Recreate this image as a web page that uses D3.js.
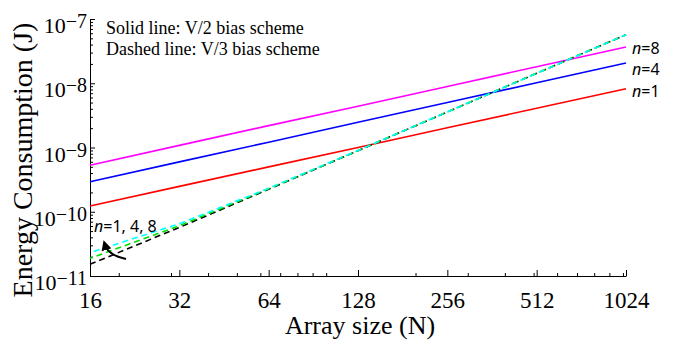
<!DOCTYPE html>
<html>
<head>
<meta charset="utf-8">
<script src="https://d3js.org/d3.v7.min.js"></script>
<style>
  body { margin: 0; background: #fff; }
  svg text { fill: #000; }
</style>
</head>
<body>
<div id="vis"></div>
<script>
// data
var sizes = [16, 32, 64, 128, 256, 512, 1024];
// solid lines: V/2 bias scheme
var solidN1 = [1.23e-10, 2.48e-10, 4.99e-10, 1.0e-9, 2.03e-9, 4.08e-9, 8.2e-9];
var solidN4 = [2.94e-10, 5.97e-10, 1.21e-9, 2.47e-9, 5.0e-9, 1.02e-8, 2.07e-8];
var solidN8 = [5.3e-10, 1.08e-9, 2.19e-9, 4.4e-9, 8.9e-9, 1.81e-8, 3.67e-8];
// dashed lines: V/3 bias scheme
var dashedN1 = [1.52e-11, 5.7e-11, 2.24e-10, 8.91e-10, 3.57e-9, 1.43e-8, 5.7e-8];
var dashedN4 = [1.88e-11, 6.06e-11, 2.28e-10, 8.96e-10, 3.57e-9, 1.43e-8, 5.7e-8];
var dashedN8 = [2.31e-11, 6.5e-11, 2.32e-10, 9.0e-10, 3.58e-9, 1.43e-8, 5.7e-8];

var xMajor = [16, 32, 64, 128, 256, 512, 1024];
var xMinor = [20, 30, 40, 50, 60, 70, 80, 90, 100, 200, 300, 400, 500, 600, 700, 800, 900, 1000];
var yExp = [-11, -10, -9, -8, -7];

var solidSeries = [
  {name: "n=1", values: solidN1, color: "#ff0000", dy: 8},
  {name: "n=4", values: solidN4, color: "#0000ff", dy: 12},
  {name: "n=8", values: solidN8, color: "#ff00ff", dy: 7}
];
var dashedSeries = [
  {name: "n=1", values: dashedN1, color: "#000000", offset: 0},
  {name: "n=4", values: dashedN4, color: "#00dd00", offset: 3},
  {name: "n=8", values: dashedN8, color: "#00ffff", offset: 6}
];

var W = 673, H = 343;
var mLeft = 90, mRight = 626, mTop = 19, mBottom = 276;

var svg = d3.select("#vis").append("svg")
  .attr("width", W)
  .attr("height", H);

var x = d3.scaleLog().base(2).domain([16, 1024]).range([mLeft, mRight]);
var y = d3.scaleLog().domain([1e-11, 1e-7]).range([mBottom, mTop]);

// minor y ticks
var yMinor = [];
yExp.forEach(function(e) {
  if (e == -7) return;
  for (var k = 2; k <= 9; k++) yMinor.push(k * Math.pow(10, e));
});

var serif = "'Liberation Serif', 'Times New Roman', serif";
var sans = "'Noto Sans', 'Open Sans', sans-serif";

// x axis
var gx = svg.append("g").attr("transform", "translate(0," + mBottom + ")");
gx.call(d3.axisBottom(x).tickValues(xMajor).tickSizeInner(-6).tickSizeOuter(0).tickFormat(d3.format("d")).tickPadding(16));
gx.append("g").call(d3.axisBottom(x).tickValues(xMinor).tickSizeInner(-3).tickSizeOuter(0).tickFormat(""))
  .select(".domain").remove();
gx.selectAll("text")
  .style("font-family", serif)
  .style("font-size", "23px");
gx.selectAll("line, path").attr("stroke", "#000");

// y axis
var gy = svg.append("g").attr("transform", "translate(" + mLeft + ",0)");
gy.call(d3.axisLeft(y).tickValues(yExp.map(function(e) { return Math.pow(10, e); }))
  .tickSizeInner(-5).tickSizeOuter(0).tickFormat(""));
gy.append("g").call(d3.axisLeft(y).tickValues(yMinor).tickSizeInner(-3).tickSizeOuter(0).tickFormat(""))
  .select(".domain").remove();
gy.selectAll("line, path").attr("stroke", "#000");

// y tick labels with superscript
var ylab = svg.append("g");
yExp.forEach(function(e) {
  var t = ylab.append("text")
    .attr("x", mLeft - 3)
    .attr("y", y(Math.pow(10, e)) + 14)
    .attr("text-anchor", "end")
    .style("font-family", serif)
    .style("font-size", "22px");
  t.append("tspan").text("10");
  t.append("tspan").attr("dy", -5).style("font-size", "20px").text("\u2212" + Math.abs(e));
});

// axis titles
svg.append("text")
  .attr("x", 360)
  .attr("y", 334)
  .attr("text-anchor", "middle")
  .style("font-family", serif)
  .style("font-size", "26px")
  .text("Array size (N)");

svg.append("text")
  .attr("transform", "translate(32,160) rotate(-90)")
  .attr("text-anchor", "middle")
  .style("font-family", serif)
  .style("font-size", "28px")
  .text("Energy Consumption (J)");

// lines
var line = d3.line()
  .x(function(d, i) { return x(sizes[i]); })
  .y(function(d) { return y(d); });

svg.selectAll(".solid")
  .data(solidSeries)
  .enter().append("path")
  .attr("class", "solid")
  .attr("fill", "none")
  .attr("stroke", function(d) { return d.color; })
  .attr("stroke-width", 1.6)
  .attr("d", function(d) { return line(d.values); });

svg.selectAll(".dashed")
  .data(dashedSeries)
  .enter().append("path")
  .attr("class", "dashed")
  .attr("fill", "none")
  .attr("stroke", function(d) { return d.color; })
  .attr("stroke-width", 1.6)
  .attr("stroke-dasharray", "6,4")
  .attr("stroke-dashoffset", function(d) { return d.offset; })
  .attr("d", function(d) { return line(d.values); });

// right side labels
svg.selectAll(".nlab")
  .data(solidSeries)
  .enter().append("text")
  .attr("class", "nlab")
  .attr("x", x(1024) + 6)
  .attr("y", function(d) { return y(d.values[d.values.length - 1]) + d.dy; })
  .style("font-family", sans)
  .style("font-size", "16px")
  .each(function(d) {
    var t = d3.select(this);
    t.append("tspan").style("font-style", "italic").text("n");
    t.append("tspan").text(d.name.slice(1));
  });

// legend text
svg.append("text")
  .attr("x", 106).attr("y", 34)
  .style("font-family", serif).style("font-size", "18px")
  .text("Solid line: V/2 bias scheme");
svg.append("text")
  .attr("x", 106).attr("y", 55)
  .style("font-family", serif).style("font-size", "18px")
  .text("Dashed line: V/3 bias scheme");

// annotation for dashed lines
var ann = svg.append("text")
  .attr("x", 94).attr("y", 232)
  .style("font-family", sans).style("font-size", "16px");
ann.append("tspan").style("font-style", "italic").text("n");
ann.append("tspan").text("=1, 4, 8");

svg.append("defs").append("marker")
  .attr("id", "arrow")
  .attr("viewBox", "0 0 10 10")
  .attr("refX", 5).attr("refY", 5)
  .attr("markerWidth", 5).attr("markerHeight", 5)
  .attr("orient", "auto")
  .append("path").attr("d", "M0,0 L10,5 L0,10 z").attr("fill", "#000");

svg.append("path")
  .attr("d", "M126,259 Q108,255 105,245")
  .attr("fill", "none")
  .attr("stroke", "#000")
  .attr("stroke-width", 2)
  .attr("marker-end", "url(#arrow)");
</script>
</body>
</html>
